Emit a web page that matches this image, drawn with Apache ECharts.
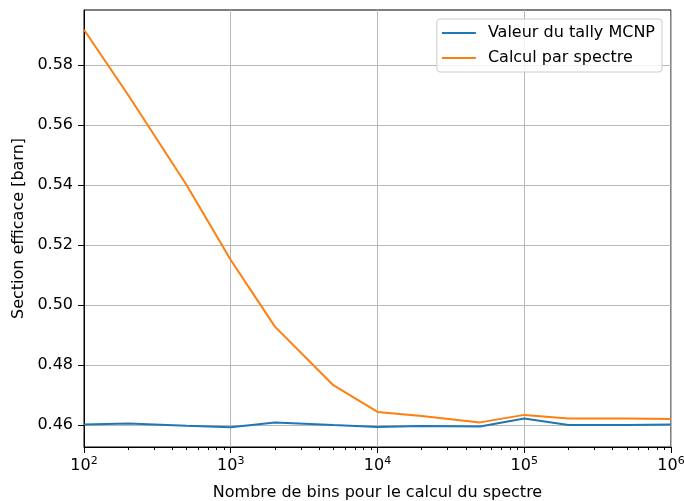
<!DOCTYPE html>
<html><head><meta charset="utf-8">
<script src="https://cdn.jsdelivr.net/npm/echarts@6/dist/echarts.min.js"></script>
<style>html,body{margin:0;padding:0;background:#fff}#c{width:684px;height:501px}</style>
</head><body><div id="c"></div>
<script>
const bins = [100, 200, 500, 1000, 2000, 5000, 10000, 20000, 50000, 100000, 200000, 500000, 1000000];
const tally = [0.4602, 0.4605, 0.4598, 0.4593, 0.4609, 0.4600, 0.4594, 0.4597, 0.4595, 0.4622, 0.4600, 0.4600, 0.4602];
const spectre = [0.5917, 0.5700, 0.5400, 0.5150, 0.4928, 0.4733, 0.4644, 0.4630, 0.4609, 0.4634, 0.4622, 0.4622, 0.4620];
const yTicks = [0.46, 0.48, 0.50, 0.52, 0.54, 0.56, 0.58];
const xTicks = [100, 1000, 10000, 100000, 1000000];
const xMinor = [];
for (let d = 100; d < 1000000; d *= 10) for (let k = 2; k <= 9; k++) xMinor.push(d * k);

const font = 'DejaVu Sans';
const fs = 16;
const chart = echarts.init(document.getElementById('c'));
chart.setOption({
  animation: false,
  textStyle: { fontFamily: font },
  grid: { left: 84, right: 13, top: 10, bottom: 54, containLabel: false, outerBoundsMode: 'none', show: true, borderColor: '#000', borderWidth: 1, backgroundColor: 'transparent' },
  legend: {
    right: 22, top: 19, orient: 'vertical', itemGap: 7,
    backgroundColor: 'rgba(255,255,255,0.8)', borderColor: '#cccccc', borderWidth: 1, borderRadius: 3,
    padding: [5, 7, 5, 5],
    icon: 'rect', itemWidth: 34, itemHeight: 2,
    textStyle: { fontSize: fs, color: '#000', fontFamily: font, lineHeight: 18, padding: [0, 0, 0, 7] },
    data: ['Valeur du tally MCNP', 'Calcul par spectre']
  },
  xAxis: [{
    type: 'log', logBase: 10, min: 100, max: 1000000,
    name: 'Nombre de bins pour le calcul du spectre', nameLocation: 'middle', nameGap: 38,
    nameTextStyle: { fontSize: fs, color: '#000', fontFamily: font },
    axisLine: { show: true, onZero: false, lineStyle: { color: '#000', width: 1 } },
    axisTick: { show: true, customValues: xTicks, length: 6, lineStyle: { color: '#000' } },
    axisLabel: {
      customValues: xTicks, margin: 9, color: '#000',
      formatter: v => '{b|10}{s|' + Math.round(Math.log10(v)) + '}',
      rich: { b: { fontSize: fs, fontFamily: font, color: '#000' }, s: { fontSize: 11, fontFamily: font, color: '#000', verticalAlign: 'top', padding: [0, 0, 9, 0] } }
    },
    splitLine: { show: true, lineStyle: { color: '#b8b8b8', width: 1 } },
    minorTick: { show: false }
  }, {
    type: 'log', logBase: 10, min: 100, max: 1000000, position: 'bottom',
    axisLine: { show: false },
    axisTick: { show: true, customValues: xMinor, length: 3, lineStyle: { color: '#000' } },
    axisLabel: { show: false },
    splitLine: { show: false }
  }],
  yAxis: {
    type: 'value', min: 0.4527, max: 0.5983,
    name: 'Section efficace [barn]', nameLocation: 'middle', nameGap: 54, nameRotate: 90,
    nameTextStyle: { fontSize: fs, color: '#000', fontFamily: font },
    axisLine: { show: true, lineStyle: { color: '#000', width: 1 } },
    axisTick: { show: true, customValues: yTicks, length: 6, lineStyle: { color: '#000' } },
    axisLabel: { customValues: yTicks, margin: 11, color: '#000', fontSize: fs, fontFamily: font, formatter: v => v.toFixed(2) },
    splitLine: { show: true, customValues: yTicks, lineStyle: { color: '#b8b8b8', width: 1 } }
  },
  series: [
    { name: 'Valeur du tally MCNP', type: 'line', data: bins.map((b, i) => [b, tally[i]]), showSymbol: false, symbol: 'none', lineStyle: { color: '#1f77b4', width: 2 }, itemStyle: { color: '#1f77b4' } },
    { name: 'Calcul par spectre', type: 'line', data: bins.map((b, i) => [b, spectre[i]]), showSymbol: false, symbol: 'none', lineStyle: { color: '#ff7f0e', width: 2 }, itemStyle: { color: '#ff7f0e' } }
  ]
});
</script></body></html>
